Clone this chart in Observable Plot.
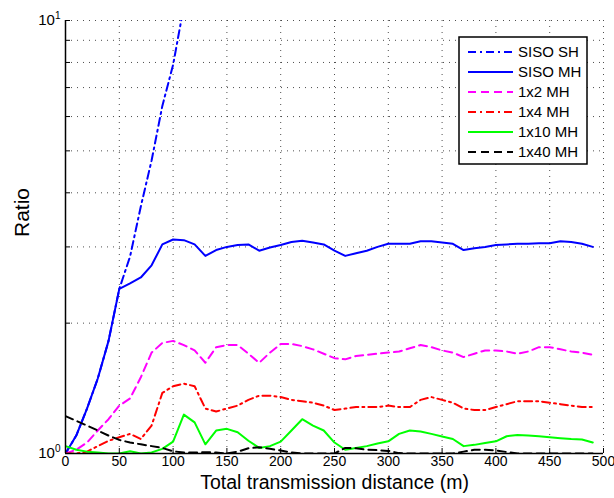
<!DOCTYPE html>
<html><head><meta charset="utf-8">
<script src="https://cdn.jsdelivr.net/npm/d3@7"></script>
<script src="https://cdn.jsdelivr.net/npm/@observablehq/plot@0.6"></script>
<style>
body{margin:0;background:#fff;}
#chart{width:614px;height:498px;}
</style>
</head><body><div id="chart"></div>
<script>
const distance = [0,10,20,30,40,50,60,70,80,90,100,110,120,130,140,150,160,170,180,190,200,210,220,230,240,250,260,270,280,290,300,310,320,330,340,350,360,370,380,390,400,410,420,430,440,450,460,470,480,490];
const sisoSH = [1.00,1.10,1.27,1.49,1.82,2.40,2.85,3.72,4.75,6.35,7.90,10.8];
const sisoMH = [1.00,1.10,1.27,1.49,1.82, 2.40,2.47,2.55,2.72,3.04, 3.12,3.11,3.04,2.86,2.95, 3.00,3.03,3.04,2.94,2.99, 3.03,3.08,3.10,3.07,3.04, 2.94,2.86,2.90,2.94,3.00, 3.05,3.05,3.05,3.09,3.09, 3.07,3.05,2.95,2.98,3.00, 3.03,3.04,3.05,3.05,3.06, 3.06,3.09,3.08,3.05,3.00];
const mh1x2 = [1.00,1.02,1.06,1.13,1.20, 1.29,1.34,1.50,1.71,1.80, 1.82,1.78,1.73,1.62,1.76, 1.78,1.78,1.70,1.62,1.71, 1.79,1.79,1.77,1.74,1.70, 1.66,1.65,1.68,1.69,1.70, 1.71,1.72,1.75,1.78,1.76, 1.73,1.71,1.67,1.70,1.73, 1.73,1.72,1.70,1.72,1.76, 1.76,1.74,1.72,1.71,1.69];
const mh1x4 = [1.00,1.00,1.01,1.04,1.07, 1.09,1.11,1.08,1.16,1.38, 1.43,1.45,1.43,1.27,1.25, 1.27,1.29,1.33,1.36,1.36, 1.35,1.33,1.32,1.31,1.29, 1.26,1.27,1.28,1.28,1.28, 1.29,1.28,1.28,1.33,1.35, 1.33,1.31,1.27,1.26,1.26, 1.28,1.30,1.32,1.32,1.32, 1.31,1.30,1.29,1.28,1.28];
const mh1x10 = [1.04,1.02,1.01,1.005,1.00, 1.00,1.012,1.00,1.006,1.025, 1.065,1.23,1.18,1.05,1.13, 1.14,1.12,1.07,1.03,1.04, 1.065,1.13,1.20,1.16,1.13, 1.06,1.02,1.03,1.04,1.055, 1.067,1.11,1.13,1.124,1.11, 1.095,1.08,1.04,1.047,1.057, 1.067,1.096,1.104,1.10,1.096, 1.09,1.085,1.08,1.077,1.06];
const mh1x40 = [1.22,1.19,1.16,1.13,1.10, 1.075,1.06,1.05,1.04,1.03, 1.012,1.005,1.005,1.007,1.005, 1.00,1.01,1.028,1.034,1.025, 1.016,1.005,1.00,1.00,1.00, 1.00,1.03,1.028,1.02,1.018, 1.014,1.002,1.00,1.00,1.00, 1.00,1.00,1.01,1.02,1.02, 1.016,1.008,1.00,1.00,1.00, 1.00,1.00,1.00,1.00,1.00];

const seriesNames = ["SISO SH","SISO MH","1x2 MH","1x4 MH","1x10 MH","1x40 MH"];
const seriesValues = [sisoSH, sisoMH, mh1x2, mh1x4, mh1x10, mh1x40];
const seriesColors = ["#0000ff","#0000ff","#ff00ff","#ff0000","#00ff00","#000000"];
const seriesDash = ["8,4,2,4", null, "8,5", "8,4,2,4", null, "8,5"];

const xTicks = [0,50,100,150,200,250,300,350,400,450,500];
const yTicks = [1,10];
const yMinor = [2,3,4,5,6,7,8,9,10];
const xLabel = "Total transmission distance (m)";
const yLabel = "Ratio";

const font = "'Liberation Sans', Arial, Helvetica, sans-serif";

const lineMarks = seriesNames.map((name, i) => {
  const rows = seriesValues[i].map((v, j) => ({x: distance[j], y: v, name}));
  return Plot.line(rows, {x: "x", y: "y", stroke: seriesColors[i], strokeWidth: 2,
    strokeDasharray: seriesDash[i] ?? undefined, clip: true});
});

const gridStyle = {stroke: "#222", strokeOpacity: 0.8, strokeWidth: 1, strokeDasharray: "1,5"};

const svg = Plot.plot({
  width: 614, height: 498,
  marginLeft: 65, marginRight: 11, marginTop: 20, marginBottom: 45,
  x: {domain: [0, 500], label: null},
  y: {type: "log", domain: [1, 10], label: null},
  style: {fontFamily: font, fontSize: "15px", color: "#000", background: "#fff"},
  marks: [
    Plot.ruleY(yMinor, {y: d => d, ...gridStyle}),
    Plot.ruleX(xTicks.slice(1), {x: d => d, ...gridStyle}),
    ...lineMarks,
    Plot.tickX(xTicks, {x: d => d, insetTop: 428, stroke: "#000", strokeWidth: 1}),
    Plot.tickY(yMinor, {y: d => d, insetRight: 533, stroke: "#000", strokeWidth: 1}),
    Plot.ruleX([0], {x: d => d, stroke: "#000", strokeWidth: 1.5}),
    Plot.ruleY([1], {y: d => d, stroke: "#000", strokeWidth: 1.5}),
    Plot.axisX(xTicks, {tickSize: 0, tickPadding: 3, fontSize: 14, label: null}),
    Plot.axisY(yTicks, {tickSize: 0, tickPadding: 5, fontSize: 15, label: null,
      tickFormat: d => String(Math.round(Math.log10(d)))}),
    Plot.text([xLabel], {text: d => d, frameAnchor: "bottom", dy: 35, fontSize: 19.5, fill: "#000"}),
    Plot.text([yLabel], {text: d => d, frameAnchor: "left", dx: -43, rotate: -90, fontSize: 21, fill: "#000"})
  ]
});

const s = d3.select(svg);
// superscript exponents for y tick labels
s.selectAll('g[aria-label="y-axis tick label"] text').each(function() {
  const t = d3.select(this);
  const e = t.text();
  t.text(null);
  t.append("tspan").text("10");
  t.append("tspan").attr("dy", "-0.6em").attr("font-size", "10px").text(e);
});

// legend
const lg = s.append("g").attr("font-family", font).attr("font-size", 15).attr("text-anchor", "start");
lg.append("rect").attr("x", 459).attr("y", 37).attr("width", 128).attr("height", 127)
  .attr("fill", "#fff").attr("stroke", "#000").attr("stroke-width", 1.5);
seriesNames.forEach((name, i) => {
  const y = 52 + i * 20;
  const ln = lg.append("line").attr("x1", 468).attr("x2", 513).attr("y1", y).attr("y2", y)
    .attr("stroke", seriesColors[i]).attr("stroke-width", 2);
  if (seriesDash[i]) ln.attr("stroke-dasharray", seriesDash[i]);
  lg.append("text").attr("x", 518).attr("y", y).attr("dy", "0.35em").attr("text-anchor", "start")
    .attr("fill", "#000").text(name);
});

document.getElementById("chart").appendChild(svg);
</script>
</body></html>
